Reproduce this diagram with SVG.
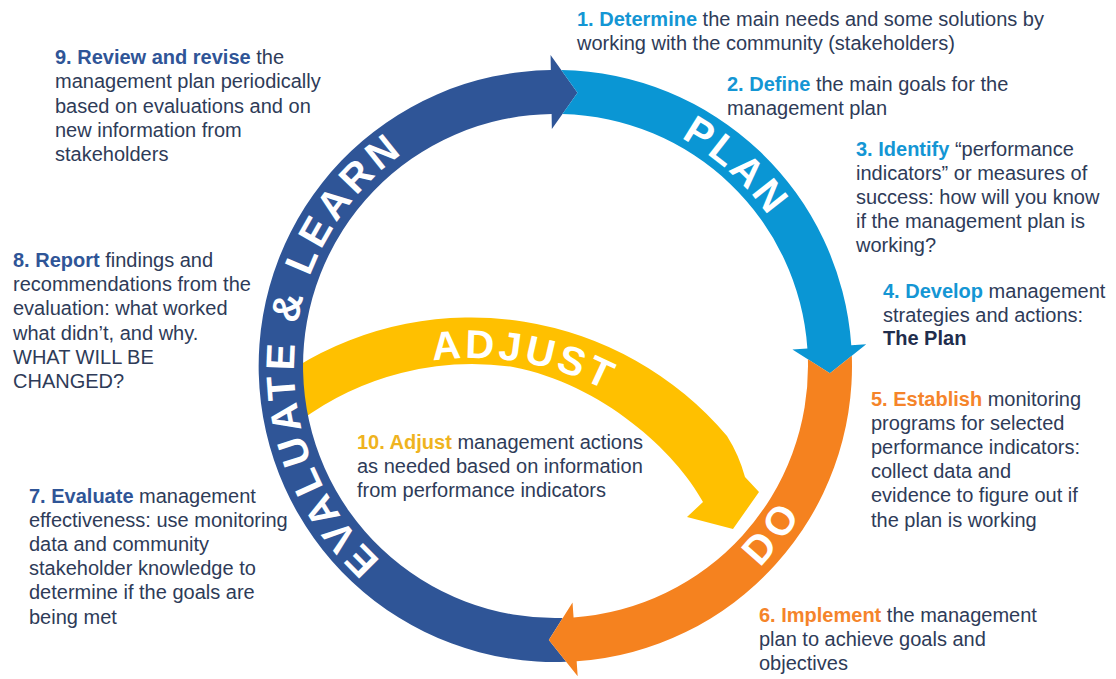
<svg xmlns="http://www.w3.org/2000/svg" xmlns:xlink="http://www.w3.org/1999/xlink" width="1116" height="679" viewBox="0 0 1116 679">
<style>
.t{font-family:"Liberation Sans",Arial,sans-serif;font-size:20px;fill:#2E3B58}
.b{font-weight:bold}
.c1{fill:#1496D4}.c2{fill:#F5842A}.c3{fill:#2F5597}.c4{fill:#EFB320}.dk{fill:#1F2D4D}
.lab{font-family:"Liberation Sans",Arial,sans-serif;font-size:40px;font-weight:bold;fill:#FFFFFF}
.ev{fill:#2F5597}.pl{fill:#0A96D4}.do{fill:#F5821F}.ad{fill:#FFC000}
</style>
<defs>
<path id="pEval" d="M 585.7 626.3 A 262 262 0 1 1 617.2 111.2"/>
<path id="pPlan" d="M 519.8 108.5 A 260 260 0 0 1 815.8 375.1"/>
<path id="pDo" d="M 568.5 652.7 A 288 288 0 0 0 836.2 303.9"/>
<path id="pAdj" d="M 283 426.8 A 294 294 0 0 1 726.6 505"/>
</defs>
<rect width="1116" height="679" fill="#FFFFFF"/>
<g id="connectors">
<path id="arc-adjust" class="ad" d="M 296 367 A 335 335 0 0 1 727 436 Q 739 455 745 477 L 759 492 L 733 529 L 687 517 L 703 502 C 676 452 602 384 513 367 A 289 289 0 0 0 300 421 Z"/>
<path id="arc-evaluate" class="ev" d="M 566.2 661.8 A 296 296 0 1 1 550.83 70.05 L 550.57 55.05 L 577.5 92.84 L 551.86 129.04 L 551.6 114.04 A 252 252 0 1 0 562.7 617.9 L 548.83 639.91 Z"/>
<path id="arc-plan" class="pl" d="M 561.27 70.05 A 296 296 0 0 1 851.28 345.35 L 866.24 344.31 L 829.91 373.17 L 792.42 349.47 L 807.39 348.42 A 252 252 0 0 0 562.46 114.08 L 577.5 92.84 Z"/>
<path id="arc-do" class="do" d="M 851.82 355.77 A 296 296 0 0 1 576.65 661.28 L 577.69 676.24 L 548.83 639.91 L 572.53 602.42 L 573.58 617.39 A 252 252 0 0 0 807.91 359.27 L 829.91 373.17 Z"/>
</g>
<g id="phase-labels">
<text class="lab" letter-spacing="4.5"><textPath href="#pEval" xlink:href="#pEval" startOffset="50%" text-anchor="middle">EVALUATE &amp; LEARN</textPath></text>
<text class="lab" letter-spacing="3"><textPath href="#pPlan" xlink:href="#pPlan" startOffset="50%" text-anchor="middle">PLAN</textPath></text>
<text class="lab" letter-spacing="6"><textPath href="#pDo" xlink:href="#pDo" startOffset="50%" text-anchor="middle">DO</textPath></text>
<text class="lab" letter-spacing="3.5"><textPath href="#pAdj" xlink:href="#pAdj" startOffset="50%" text-anchor="middle">ADJUST</textPath></text>
</g>
<g id="step-1"><text class="t" x="577" y="26"><tspan class="b c1">1. Determine</tspan> the main needs and some solutions by<tspan x="577" dy="24.3">working with the community (stakeholders)</tspan></text></g>
<g id="step-2"><text class="t" x="727" y="91"><tspan class="b c1">2. Define</tspan> the main goals for the<tspan x="727" dy="24.3">management plan</tspan></text></g>
<g id="step-3"><text class="t" x="856" y="156"><tspan class="b c1">3. Identify</tspan> “performance<tspan x="856" dy="24.1">indicators” or measures of</tspan><tspan x="856" dy="24.1">success: how will you know</tspan><tspan x="856" dy="24.1">if the management plan is</tspan><tspan x="856" dy="24.1">working?</tspan></text></g>
<g id="step-4"><text class="t" x="883" y="298"><tspan class="b c1">4. Develop</tspan> management<tspan x="883" dy="23.6">strategies and actions:</tspan><tspan x="883" dy="23.6" class="b dk">The Plan</tspan></text></g>
<g id="step-5"><text class="t" x="871" y="406"><tspan class="b c2">5. Establish</tspan> monitoring<tspan x="871" dy="24.1">programs for selected</tspan><tspan x="871" dy="24.1">performance indicators:</tspan><tspan x="871" dy="24.1">collect data and</tspan><tspan x="871" dy="24.1">evidence to figure out if</tspan><tspan x="871" dy="24.1">the plan is working</tspan></text></g>
<g id="step-6"><text class="t" x="759" y="622"><tspan class="b c2">6. Implement</tspan> the management<tspan x="759" dy="24.1">plan to achieve goals and</tspan><tspan x="759" dy="24.1">objectives</tspan></text></g>
<g id="step-7"><text class="t" x="29" y="503"><tspan class="b c3">7. Evaluate</tspan> management<tspan x="29" dy="24.1">effectiveness: use monitoring</tspan><tspan x="29" dy="24.1">data and community</tspan><tspan x="29" dy="24.1">stakeholder knowledge to</tspan><tspan x="29" dy="24.1">determine if the goals are</tspan><tspan x="29" dy="24.1">being met</tspan></text></g>
<g id="step-8"><text class="t" x="13" y="267"><tspan class="b c3">8. Report</tspan> findings and<tspan x="13" dy="24.2">recommendations from the</tspan><tspan x="13" dy="24.2">evaluation: what worked</tspan><tspan x="13" dy="24.2">what didn’t, and why.</tspan><tspan x="13" dy="24.2">WHAT WILL BE</tspan><tspan x="13" dy="24.2">CHANGED?</tspan></text></g>
<g id="step-9"><text class="t" x="55" y="64"><tspan class="b c3">9. Review and revise</tspan> the<tspan x="55" dy="24.3">management plan periodically</tspan><tspan x="55" dy="24.3">based on evaluations and on</tspan><tspan x="55" dy="24.3">new information from</tspan><tspan x="55" dy="24.3">stakeholders</tspan></text></g>
<g id="step-10"><text class="t" x="357" y="449"><tspan class="b c4">10. Adjust</tspan> management actions<tspan x="357" dy="24.1">as needed based on information</tspan><tspan x="357" dy="24.1">from performance indicators</tspan></text></g>
</svg>
